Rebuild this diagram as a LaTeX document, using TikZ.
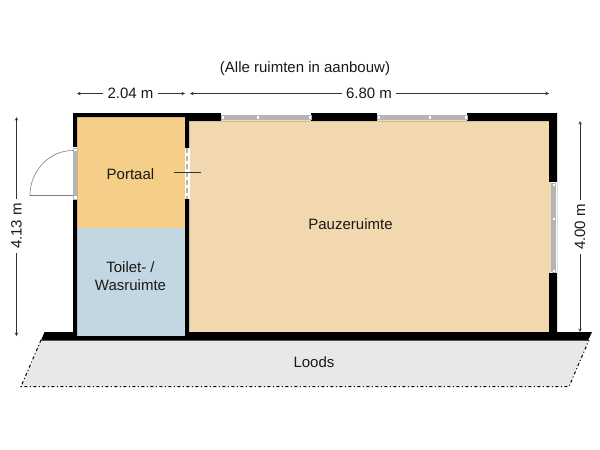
\documentclass[tikz,border=0pt]{standalone}
\usepackage{fontspec}
\setmainfont{Liberation Sans}
\definecolor{portaalcol}{HTML}{F5CF87}
\definecolor{toiletcol}{HTML}{C3D7E3}
\definecolor{pauzecol}{HTML}{F2D8AE}
\definecolor{loodscol}{HTML}{E8E8E8}
\definecolor{glascol}{HTML}{B4B4B4}
\definecolor{dimcol}{HTML}{333333}
\tikzset{
	roomlabel/.style={font=\fontsize{15}{18}\selectfont,align=center,text=black!90,inner sep=0pt},
	dimlabel/.style={font=\fontsize{15}{18}\selectfont,text=black!90,inner sep=4pt},
	dimline/.style={->,draw=dimcol,line width=0.6pt},
	ruit/.style={fill=white,draw=glascol,line width=0.3pt},
}
\begin{document}
\begin{tikzpicture}[>=stealth,line join=miter,x=1pt,y=-1pt]
	\useasboundingbox (0,0) rectangle (600,450);
	\fill[white] (0,0) rectangle (600,450);
	\fill[loodscol] (41,340)--(589,340)--(569,386.5)--(21,386.5)--cycle;
	\draw[line width=1pt,dash pattern=on 3pt off 2.5pt on 1pt off 2.5pt] (41,340)--(21,386.5)--(569,386.5)--(589,340);
	\fill[portaalcol] (77,117)rectangle(185,228);
	\fill[toiletcol] (77,228)rectangle(185,336);
	\fill[pauzecol] (189,121)rectangle(550,332);
	\fill[black] (73,113)--(557,113)--(557,332)--(592,332)--(588,340.5)--(41,340.5)--(44.5,332)--(73,332)--cycle
		(77,117)--(77,336)--(185,336)--(185,117)--cycle
		(189,121)--(189,332)--(549,332)--(549,121)--cycle;
	\fill[white] (221,113)rectangle(311,121);
	\fill[white] (377,113)rectangle(467,121);
	\fill[pauzecol] (221,120)rectangle(311,121);
	\fill[pauzecol] (377,120)rectangle(467,121);
	\fill[glascol] (222,115)rectangle(310,120);
	\fill[glascol] (378,115)rectangle(466,120);
	\foreach \x in {222.5,258,309.5,378.5,430,465.5}
		\draw[ruit] (\x-1.5,115.5)rectangle(\x+1.5,119);
	\fill[white] (549,182)rectangle(557,273);
	\fill[pauzecol] (549,182)rectangle(551,273);
	\fill[glascol] (551,183)rectangle(556,272);
	\foreach \y in {184.5,219,271}
		\draw[ruit] (552,\y-1.5)rectangle(555.5,\y+1.5);
	\fill[white] (73,147)rectangle(77,199);
	\fill[glascol] (73,149)rectangle(77,198);
	\draw[ruit] (73,148)rectangle(77,151);
	\draw[ruit] (73,195)rectangle(77,199);
	\draw[glascol!70!black,line width=0.6pt] (73,195.5)--(30,195.5) arc[start angle=180,end angle=90,x radius=43,y radius=-45];
	\fill[white] (184.5,148)rectangle(189.5,199);
	\draw[glascol,line width=1.2pt,dash pattern=on 5pt off 3pt] (187,148)--(187,199);
	\draw[black!80,line width=0.7pt] (174,172.5)--(201,172.5);
	\node[roomlabel] (portaal) at (130.5,174) {Portaal};
	\node[roomlabel] (toilet) at (130.5,276) {Toilet- /\\Wasruimte};
	\node[roomlabel] (pauze) at (350.5,224) {Pauzeruimte};
	\node[roomlabel] (loods) at (314,362) {Loods};
	\node[roomlabel] (titel) at (305,69) {(Alle ruimten in aanbouw)};
	\node[dimlabel] (dimA) at (130.5,93.5) {2.04 m};
	\coordinate (dimAl) at (77,93.5);
	\coordinate (dimAr) at (185,93.5);
	\draw[dimline] (dimA)--(dimAl);
	\draw[dimline] (dimA)--(dimAr);
	\node[dimlabel] (dimB) at (369,93.5) {6.80 m};
	\coordinate (dimBl) at (190,93.5);
	\coordinate (dimBr) at (549,93.5);
	\draw[dimline] (dimB)--(dimBl);
	\draw[dimline] (dimB)--(dimBr);
	\node[dimlabel,rotate=90] (dimC) at (16.5,226) {4.13 m};
	\coordinate (dimCt) at (16.5,117);
	\coordinate (dimCb) at (16.5,336);
	\draw[dimline] (dimC)--(dimCt);
	\draw[dimline] (dimC)--(dimCb);
	\node[dimlabel,rotate=90] (dimD) at (580,227) {4.00 m};
	\coordinate (dimDt) at (580,121);
	\coordinate (dimDb) at (580,332);
	\draw[dimline] (dimD)--(dimDt);
	\draw[dimline] (dimD)--(dimDb);
\end{tikzpicture}
\end{document}
